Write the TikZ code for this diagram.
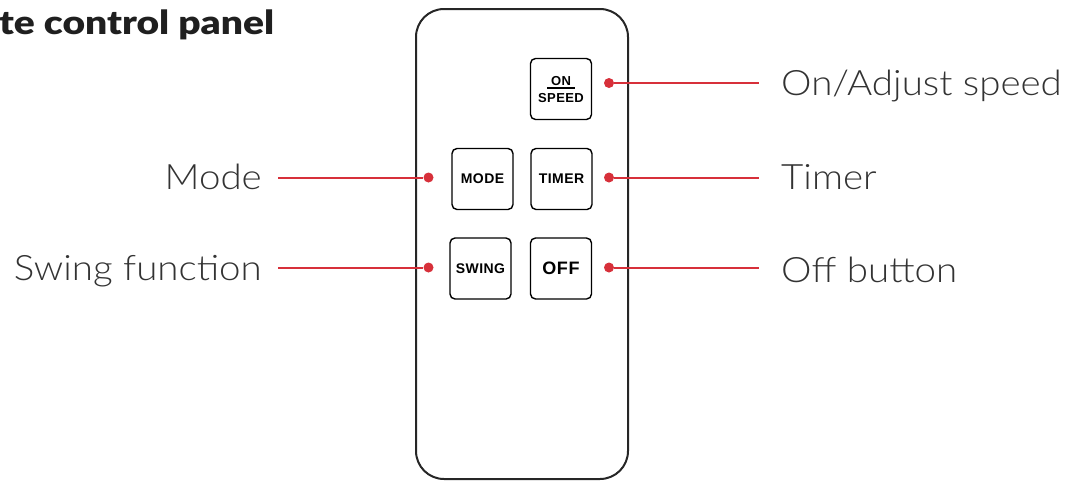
\documentclass[tikz,border=0pt]{standalone}
\usepackage{fontspec}
\setmainfont{Lato}[UprightFont=* Light, BoldFont=* Bold]
\newfontfamily\labfont{Lato}[UprightFont=* Light, FakeStretch=1.1]
\newfontfamily\titfont{Lato}[UprightFont=* Black, FakeStretch=1.18]
\newfontfamily\btnfont{Liberation Sans}[UprightFont=* Bold, LetterSpace=3]
\definecolor{ared}{HTML}{D7303A}
\definecolor{txt}{HTML}{333333}
\begin{document}
\begin{tikzpicture}[x=1pt,y=-1pt,
  label/.style={font=\labfont\fontsize{35}{40}\selectfont, text=txt, inner sep=0pt},
  btn/.style={draw=black, line width=1.4pt, rounded corners=5pt, minimum width=61pt, minimum height=61pt, inner sep=0pt, font=\btnfont\fontsize{14}{16}\selectfont},
  dot/.style={circle, fill=ared, inner sep=0pt, minimum size=10pt},
  conn/.style={draw=ared, line width=2pt}]
\useasboundingbox (0,0) rectangle (1071,480);
% title
\node[anchor=base west, inner sep=0pt, font=\titfont\fontsize{33}{36}\selectfont, text=black!88] (title) at (-1,34) {te control panel};
% remote body
\draw[line width=2pt, draw=black!85, rounded corners=28pt] (416,9) rectangle (628,479);
\node[inner sep=0pt, minimum width=212pt, minimum height=470pt] (body) at (522,244) {};
% buttons
\node[btn] (bon) at (561,89) {};
\node[inner sep=0pt, font=\btnfont\fontsize{13}{14}\selectfont] (onl) at (561,81) {ON};
\draw[line width=1.6pt] (547,88) -- (575,88);
\node[inner sep=0pt, font=\btnfont\fontsize{13}{14}\selectfont] (spl) at (561,98) {SPEED};
\node[btn] (bmode) at (482.5,179) {MODE};
\node[btn] (btimer) at (561.5,179) {TIMER};
\node[btn] (bswing) at (480.5,268.5) {SWING};
\node[btn, font=\btnfont\fontsize{18}{20}\selectfont] (boff) at (561,268.5) {OFF};
% dots
\node[dot] (don) at (609,83) {};
\node[dot] (dtimer) at (609,177.5) {};
\node[dot] (doff) at (609,267.5) {};
\node[dot] (dmode) at (428.5,177.5) {};
\node[dot] (dswing) at (428.5,267.5) {};
% free ends
\coordinate (eon) at (759,83);
\coordinate (etimer) at (759,177.5);
\coordinate (eoff) at (759,267.5);
\coordinate (emode) at (278,177.5);
\coordinate (eswing) at (278,267.5);
\draw[conn] (don) -- (eon);
\draw[conn] (dtimer) -- (etimer);
\draw[conn] (doff) -- (eoff);
\draw[conn] (emode) -- (dmode);
\draw[conn] (eswing) -- (dswing);
% labels
\node[label, anchor=base west] (lon) at (781,95) {On/Adjust speed};
\node[label, anchor=base west] (ltimer) at (781,189) {Timer};
\node[label, anchor=base west] (loff) at (781,282) {Off button};
\node[label, anchor=base east] (lmode) at (262,189) {Mode};
\node[label, anchor=base east] (lswing) at (262,280) {Swing function};
\end{tikzpicture}
\end{document}
